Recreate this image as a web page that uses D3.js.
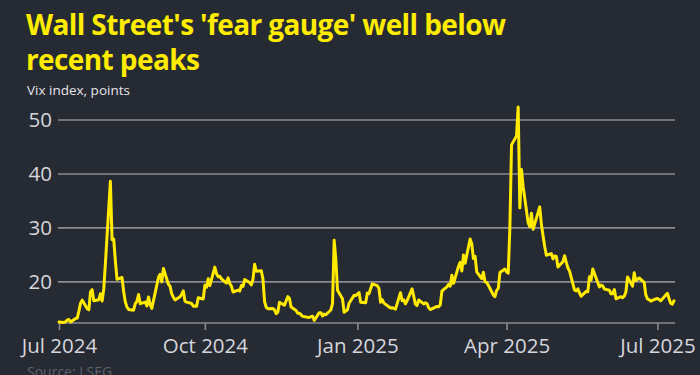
<!DOCTYPE html>
<html>
<head>
<meta charset="utf-8">
<script src="https://cdn.jsdelivr.net/npm/d3@7"></script>
<style>
  html, body { margin: 0; padding: 0; background: #262a33; }
  svg { display: block; }
</style>
</head>
<body>
<div id="chart"></div>
<script>
// Vix daily closes (Jul 2024 - Jul 2025)
const dates = [
  "2024-07-05","2024-07-08","2024-07-09","2024-07-10","2024-07-11","2024-07-12","2024-07-15","2024-07-16","2024-07-17","2024-07-18","2024-07-19",
  "2024-07-22","2024-07-23","2024-07-24","2024-07-25","2024-07-26","2024-07-29","2024-07-30","2024-07-31","2024-08-01","2024-08-02",
  "2024-08-05","2024-08-06","2024-08-07","2024-08-08","2024-08-09","2024-08-12","2024-08-13","2024-08-14","2024-08-15","2024-08-16",
  "2024-08-19","2024-08-20","2024-08-21","2024-08-22","2024-08-23","2024-08-26","2024-08-27","2024-08-28","2024-08-29","2024-08-30",
  "2024-09-03","2024-09-04","2024-09-05","2024-09-06","2024-09-09","2024-09-10","2024-09-11","2024-09-12","2024-09-13",
  "2024-09-16","2024-09-17","2024-09-18","2024-09-19","2024-09-20","2024-09-23","2024-09-24","2024-09-25","2024-09-26","2024-09-27","2024-09-30",
  "2024-10-01","2024-10-02","2024-10-03","2024-10-04","2024-10-07","2024-10-08","2024-10-09","2024-10-10","2024-10-11",
  "2024-10-14","2024-10-15","2024-10-16","2024-10-17","2024-10-18","2024-10-21","2024-10-22","2024-10-23","2024-10-24","2024-10-25",
  "2024-10-28","2024-10-29","2024-10-30","2024-10-31","2024-11-01","2024-11-04","2024-11-05","2024-11-06","2024-11-07","2024-11-08",
  "2024-11-11","2024-11-12","2024-11-13","2024-11-14","2024-11-15","2024-11-18","2024-11-19","2024-11-20","2024-11-21","2024-11-22",
  "2024-11-25","2024-11-26","2024-11-27","2024-11-29","2024-12-02","2024-12-03","2024-12-04","2024-12-05","2024-12-06",
  "2024-12-09","2024-12-10","2024-12-11","2024-12-12","2024-12-13","2024-12-16","2024-12-17","2024-12-18","2024-12-19","2024-12-20",
  "2024-12-23","2024-12-24","2024-12-26","2024-12-27","2024-12-30","2024-12-31","2025-01-02","2025-01-03",
  "2025-01-06","2025-01-07","2025-01-08","2025-01-10","2025-01-13","2025-01-14","2025-01-15","2025-01-16","2025-01-17",
  "2025-01-21","2025-01-22","2025-01-23","2025-01-24","2025-01-27","2025-01-28","2025-01-29","2025-01-30","2025-01-31",
  "2025-02-03","2025-02-04","2025-02-05","2025-02-06","2025-02-07","2025-02-10","2025-02-11","2025-02-12","2025-02-13","2025-02-14",
  "2025-02-18","2025-02-19","2025-02-20","2025-02-21","2025-02-24","2025-02-25","2025-02-26","2025-02-27","2025-02-28",
  "2025-03-03","2025-03-04","2025-03-05","2025-03-06","2025-03-07","2025-03-10","2025-03-11","2025-03-12","2025-03-13","2025-03-14",
  "2025-03-17","2025-03-18","2025-03-19","2025-03-20","2025-03-21","2025-03-24","2025-03-25","2025-03-26","2025-03-27","2025-03-28","2025-03-31",
  "2025-04-01","2025-04-02","2025-04-03","2025-04-04","2025-04-07","2025-04-08","2025-04-09","2025-04-10","2025-04-11",
  "2025-04-14","2025-04-15","2025-04-16","2025-04-17","2025-04-21","2025-04-22","2025-04-23","2025-04-24","2025-04-25",
  "2025-04-28","2025-04-29","2025-04-30","2025-05-01","2025-05-02","2025-05-05","2025-05-06","2025-05-07","2025-05-08","2025-05-09",
  "2025-05-12","2025-05-13","2025-05-14","2025-05-15","2025-05-16","2025-05-19","2025-05-20","2025-05-21","2025-05-22","2025-05-23",
  "2025-05-27","2025-05-28","2025-05-29","2025-05-30","2025-06-02","2025-06-03","2025-06-04","2025-06-05","2025-06-06",
  "2025-06-09","2025-06-10","2025-06-11","2025-06-12","2025-06-13","2025-06-16","2025-06-17","2025-06-18","2025-06-20",
  "2025-06-23","2025-06-24","2025-06-25","2025-06-26","2025-06-27","2025-06-30","2025-07-01","2025-07-02","2025-07-03",
  "2025-07-07","2025-07-08","2025-07-09","2025-07-10","2025-07-11"
];

const vix = [
  12.48,12.37,12.51,12.85,12.91,12.46,13.12,13.19,14.48,15.93,16.52,
  14.91,14.72,18.04,18.46,16.39,16.60,17.69,16.36,18.59,23.39,
  38.57,27.71,27.85,23.79,20.37,20.71,18.12,16.19,15.23,14.80,
  14.65,15.88,16.27,17.55,15.86,16.15,15.43,17.11,15.65,15.00,
  20.72,21.32,19.90,22.38,19.45,19.08,17.69,17.07,16.56,
  17.14,17.61,18.23,16.33,16.15,15.89,15.39,15.41,15.37,16.96,16.73,
  19.26,18.90,20.49,19.21,22.64,21.42,20.86,20.93,20.46,
  19.70,20.64,19.58,19.11,18.03,18.37,18.20,19.24,19.08,20.33,
  19.80,19.34,20.35,23.16,21.88,21.98,20.49,16.27,15.20,14.94,
  14.97,14.71,14.02,14.31,16.14,15.58,16.35,17.16,16.87,15.24,
  14.60,14.10,14.10,13.51,13.34,13.30,13.45,13.54,12.77,
  14.19,14.18,13.58,13.92,13.81,14.69,15.87,27.62,24.09,18.36,
  16.78,14.27,14.73,15.95,17.40,17.35,17.93,16.13,
  16.04,17.82,17.70,19.54,19.19,18.71,16.12,16.60,15.97,
  15.06,15.10,15.02,14.85,17.90,16.41,16.56,15.84,16.43,
  18.62,17.21,15.77,15.50,16.54,15.81,16.02,15.89,15.10,14.77,
  15.35,15.27,15.66,18.21,18.98,19.43,19.10,21.13,19.63,
  22.78,23.51,21.93,24.87,23.37,27.86,26.92,24.23,24.66,21.77,
  20.51,21.70,19.90,19.80,19.28,17.48,17.15,18.33,18.69,21.65,22.28,
  21.77,21.51,30.02,45.31,46.98,52.33,33.62,40.72,37.56,
  30.89,30.12,32.64,29.65,33.82,30.57,28.45,26.47,24.84,
  25.15,24.17,24.70,24.60,22.68,23.64,24.76,23.55,22.48,21.90,
  18.39,18.22,18.62,17.83,17.24,18.14,18.09,20.87,20.28,22.29,
  18.96,19.31,19.18,18.57,18.36,17.69,17.68,18.48,16.77,
  17.16,16.95,17.26,18.02,20.82,19.11,21.60,20.14,20.62,
  19.83,17.48,16.76,16.59,16.32,16.73,16.83,16.64,16.38,
  17.79,16.81,15.94,15.78,16.40
];

const yTicks = [20, 30, 40, 50];
const xTickDates = ["2024-07-05", "2024-10-01", "2025-01-01", "2025-04-01", "2025-07-01"];
const xTickLabels = ["Jul 2024", "Oct 2024", "Jan 2025", "Apr 2025", "Jul 2025"];

const parse = d3.timeParse("%Y-%m-%d");
const data = dates.map((d, i) => ({ date: parse(d), value: vix[i] }));

const width = 700, height = 375;
const margin = { t: 107, r: 26, b: 52, l: 59 };

const svg = d3.select("#chart").append("svg")
  .attr("width", width).attr("height", height);

svg.append("rect").attr("width", width).attr("height", height).attr("fill", "#262a33");

// titles
const title = svg.append("text")
  .attr("x", 26).attr("y", 35)
  .style("font-family", "'Open Sans', sans-serif")
  .style("font-weight", 700)
  .style("font-size", "28px")
  .style("letter-spacing", "-0.6px")
  .attr("fill", "#ffec00");
title.append("tspan").attr("x", 26).attr("dy", 0).text("Wall Street's 'fear gauge' well below");
title.append("tspan").attr("x", 26).attr("dy", 35).text("recent peaks");

svg.append("text")
  .attr("x", 27).attr("y", 95)
  .style("font-family", "'Open Sans', sans-serif")
  .style("font-size", "13.5px")
  .attr("fill", "#e4e4ea")
  .text("Vix index, points");

//scales
const xScale = d3.scaleTime()
  .domain(d3.extent(data, d => d.date))
  .range([margin.l, width - margin.r]);

const yScale = d3.scaleLinear()
  .domain(d3.extent(data, d => d.value))
  .range([height - margin.b - 0.5, margin.t]);

//gridlines + y labels
const yAxis = svg.append("g").attr("class", "y-axis")
  .attr("transform", `translate(${margin.l - 1},0)`)
  .call(d3.axisRight(yScale).tickValues(yTicks).tickSize(width - margin.r - margin.l + 2).tickFormat(d3.format("d")))
  .call(g => g.select(".domain").remove());
yAxis.selectAll(".tick line").attr("stroke", "#8d8a93").attr("stroke-width", 1.6);
yAxis.selectAll(".tick text")
  .attr("x", -6).attr("dy", "0.35em")
  .attr("text-anchor", "end")
  .attr("fill", "#d6d6dc")
  .style("font-family", "'Open Sans', sans-serif")
  .style("font-size", "20.5px");

//x axis
const xAxis = svg.append("g").attr("class", "x-axis")
  .attr("transform", `translate(0,${height - margin.b})`)
  .call(d3.axisBottom(xScale)
    .tickValues(xTickDates.map(parse))
    .tickSize(7)
    .tickFormat((d, i) => xTickLabels[i]));
xAxis.select(".domain")
  .attr("d", `M${margin.l - 1},0H${width - margin.r + 1}`)
  .attr("stroke", "#8d8a93").attr("stroke-width", 1.6);
xAxis.selectAll(".tick line").attr("stroke", "#8d8a93").attr("stroke-width", 1.6);
xAxis.selectAll(".tick text")
  .attr("y", 12).attr("dy", "0.9em")
  .attr("fill", "#d6d6dc")
  .style("font-family", "'Open Sans', sans-serif")
  .style("font-size", "20.5px");

//line
const line = d3.line()
  .x(d => xScale(d.date))
  .y(d => yScale(d.value));

svg.append("path")
  .datum(data)
  .attr("d", line)
  .attr("fill", "none")
  .attr("stroke", "#ffea00")
  .attr("stroke-width", 3)
  .attr("stroke-linejoin", "round")
  .attr("stroke-linecap", "round");

//source
svg.append("text")
  .attr("x", 27).attr("y", 377)
  .style("font-family", "'Open Sans', sans-serif")
  .style("font-size", "14px")
  .attr("fill", "#5d6069")
  .text("Source: LSEG");
</script>
</body>
</html>
